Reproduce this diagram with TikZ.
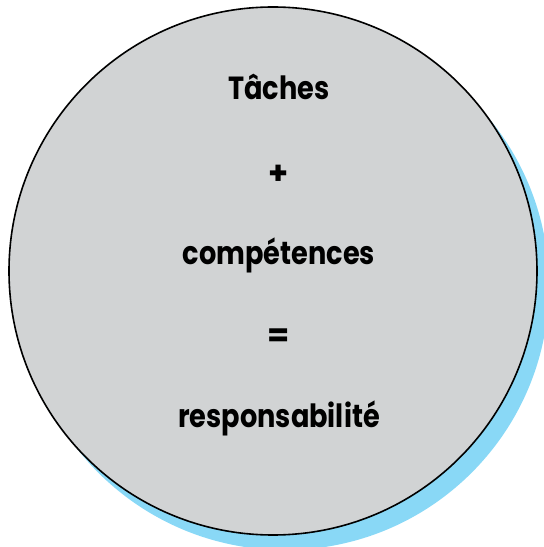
\documentclass[tikz,border=0pt]{standalone}
\usepackage{fontspec}
\setmainfont{Poppins}[BoldFont={* Bold}]
\definecolor{discgrey}{RGB}{209,211,212}
\definecolor{shadowblue}{RGB}{137,216,246}
\begin{document}
\begin{tikzpicture}[scale=1, font=\fontsize{32}{38}\selectfont\bfseries, line join=round, line cap=round, x=1pt, y=1pt,
  word/.style={inner sep=0pt, anchor=base, xscale=0.85, transform shape},
  sign/.style={inner sep=0pt}]
\def \cx{273};
\def \cy{276};
\def \r{264};
\useasboundingbox (0,0) rectangle (544,547);
\fill[shadowblue] (\cx+12,\cy-15) circle(\r);
\filldraw[fill=discgrey, draw=black, line width=1.6pt] (\cx,\cy) circle(\r);
\foreach \n/\y/\t in {taches/447/Tâches, comp/282/compétences, resp/119/responsabilité}{\node[word] (\n) at (279,\y) {\t};}
\node[sign] (plus) at (279,372) {+};
\node[sign] (egal) at (279,209) {=};
\end{tikzpicture}
\end{document}
